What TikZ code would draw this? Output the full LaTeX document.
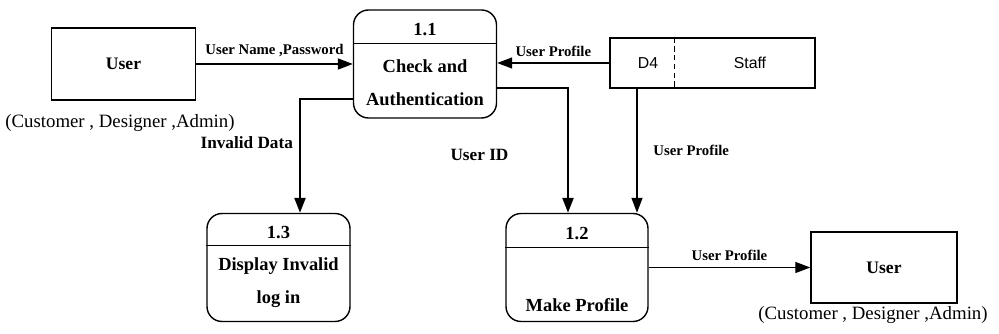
\documentclass[tikz,border=0pt]{standalone}
\usepackage{fontspec}
\setmainfont{Liberation Serif}
\setsansfont{Liberation Sans}
\usetikzlibrary{arrows.meta,calc,positioning}

\tikzset{
  entity/.style={draw, line width=0.8pt, minimum width=2.88cm, minimum height=1.44cm,
    font=\bfseries\fontsize{10}{12}\selectfont},
  process/.style={draw, line width=0.8pt, rounded corners=0.3cm,
    minimum width=2.86cm, minimum height=2.16cm},
  ptext/.style={font=\bfseries\fontsize{10.5}{18.5}\selectfont, align=center},
  flow/.style={-{Triangle[length=0.3cm,width=0.22cm]}, line width=0.7pt},
  bigflow/.style={flow, line width=1.4pt},
  lbl/.style={font=\bfseries\fontsize{8.4}{10}\selectfont},
  lblbig/.style={font=\bfseries\fontsize{9.8}{12}\selectfont},
  role/.style={font=\fontsize{10.7}{13}\selectfont},
  storetext/.style={font=\sffamily\fontsize{9}{11}\selectfont},
}

\begin{document}
\begin{tikzpicture}
\useasboundingbox (0,0) rectangle (19.98,-6.68);

% external entities
\node[entity] (user1) at (2.47,-1.28) {User};
\node[role] (role1) at (2.4,-2.46) {(Customer , Designer ,Admin)};
\node[entity, minimum width=2.92cm, minimum height=1.42cm] (user2) at (17.68,-5.35) {User};
\node[role] (role2) at (17.46,-6.3) {(Customer , Designer ,Admin)};

% process 1.1
\node[process] (p11) at (8.5,-1.28) {};
\draw[line width=0.8pt] ([yshift=-0.68cm]p11.north west) -- ([yshift=-0.68cm]p11.north east);
\node[ptext] (p11id) at ([yshift=-0.4cm]p11.north) {1.1};
\node[ptext] (p11txt) at ([yshift=-1.47cm]p11.north) {Check and\\Authentication};

% process 1.3
\node[process] (p13) at (5.57,-5.35) {};
\draw[line width=0.8pt] ([yshift=-0.66cm]p13.north west) -- ([yshift=-0.66cm]p13.north east);
\node[ptext] (p13id) at ([yshift=-0.4cm]p13.north) {1.3};
\node[ptext] (p13txt) at ([yshift=-1.4cm]p13.north) {Display Invalid\\log in};

% process 1.2
\node[process, minimum width=2.84cm] (p12) at (11.54,-5.35) {};
\draw[line width=0.8pt] ([yshift=-0.7cm]p12.north west) -- ([yshift=-0.7cm]p12.north east);
\node[ptext] (p12id) at ([yshift=-0.42cm]p12.north) {1.2};
\node[ptext] (p12txt) at ([yshift=-1.84cm]p12.north) {Make Profile};

% data store D4
\node[draw, line width=0.6pt, minimum width=4.1cm, minimum height=1cm] (d4) at (14.25,-1.26) {};
\draw[densely dashed, line width=0.5pt] ([xshift=1.3cm]d4.north west) -- ([xshift=1.3cm]d4.south west);
\node[storetext] (d4id) at (12.96,-1.26) {D4};
\node[storetext] (d4name) at (15.0,-1.26) {Staff};

% data flows
\draw[flow, line width=1pt] (user1.east) -- (p11.west)
  node[midway, above, lbl] {User Name ,Password};
\draw[flow] (d4.west) -- (d4.west -| p11.east)
  node[midway, above, lbl] {User Profile};
\draw[bigflow] ([yshift=-0.7cm]p11.west) -| ([xshift=0.43cm]p13.north)
  node[pos=0.69, left, lblbig] {Invalid Data};
\draw[bigflow] ([yshift=-0.48cm]p11.east) -| ([xshift=-0.18cm]p12.north)
  node[pos=0.77, left=1.05cm, lblbig] {User ID};
\draw[flow] ([xshift=1.2cm]p12.north |- d4.south) -- ([xshift=1.2cm]p12.north)
  node[midway, right=0.2cm, lbl] {User Profile};
\draw[flow] (p12.east) -- (user2.west)
  node[midway, above, lbl] {User Profile};
\end{tikzpicture}
\end{document}
